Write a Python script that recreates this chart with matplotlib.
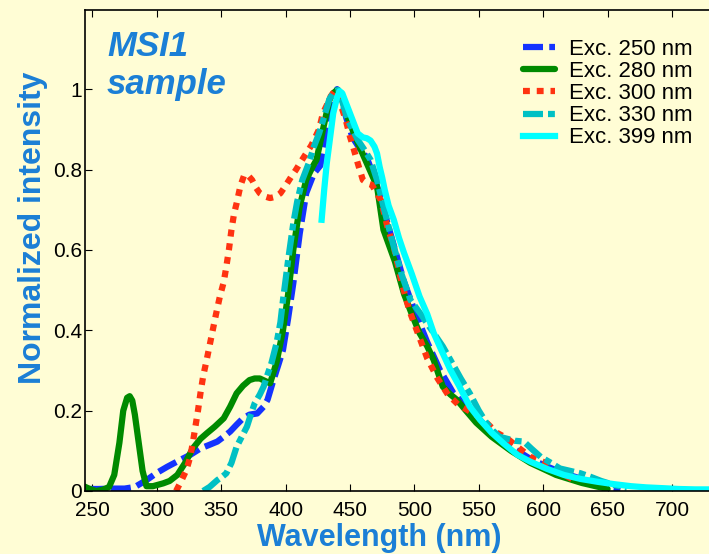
import matplotlib
matplotlib.use("Agg")
import matplotlib.pyplot as plt

# emission spectra (wavelength nm, normalized intensity)
lam_250 = [244, 255, 265, 275, 283, 292, 300, 308, 318, 326, 334, 341, 347, 352, 357, 362, 367,
           372, 378, 383, 386, 390, 394, 398, 402, 406, 411, 416, 422, 427, 431, 435, 438, 440,
           443, 447, 452, 458, 463, 470, 477, 485, 492, 500, 510, 520, 530, 540, 550, 560, 570,
           580, 590, 600, 615, 630, 645, 660]
int_250 = [0.005, 0.005, 0.006, 0.006, 0.01, 0.027, 0.045, 0.06, 0.077, 0.09, 0.106, 0.115, 0.123,
           0.135, 0.148, 0.165, 0.181, 0.19, 0.193, 0.21, 0.227, 0.27, 0.31, 0.351, 0.43, 0.517,
           0.641, 0.741, 0.79, 0.81, 0.874, 0.94, 0.98, 1.0, 0.98, 0.93, 0.88, 0.85, 0.83, 0.77,
           0.69, 0.6, 0.52, 0.45, 0.37, 0.3, 0.245, 0.21, 0.18, 0.145, 0.12, 0.1, 0.08, 0.065,
           0.045, 0.03, 0.015, 0.005]

lam_280 = [244, 248, 253, 258, 263, 267, 271, 274, 277, 279, 281, 283, 286, 289, 292, 297, 305,
           310, 316, 322, 328, 334, 339, 345, 352, 357, 362, 367, 372, 376, 380, 384, 388, 393,
           398, 402, 406, 411, 416, 421, 424, 429, 434, 437, 440, 444, 448, 455, 463, 471, 476,
           485, 492, 498, 504, 510, 515, 522, 528, 533, 540, 548, 560, 575, 590, 610, 630, 650]
int_280 = [0.011, 0.005, 0.0, 0.003, 0.01, 0.04, 0.12, 0.2, 0.232, 0.236, 0.225, 0.19, 0.12,
           0.05, 0.012, 0.012, 0.019, 0.025, 0.04, 0.07, 0.106, 0.13, 0.144, 0.16, 0.181, 0.21,
           0.243, 0.262, 0.276, 0.28, 0.28, 0.274, 0.268, 0.32, 0.40, 0.49, 0.60, 0.708, 0.774,
           0.807, 0.824, 0.899, 0.973, 0.99, 0.998, 0.975, 0.932, 0.874, 0.816, 0.758, 0.65,
           0.57, 0.49, 0.44, 0.393, 0.36, 0.326, 0.26, 0.24, 0.227, 0.2, 0.17, 0.135, 0.1, 0.07,
           0.04, 0.02, 0.005]

lam_300 = [315, 319, 323, 326, 328, 330, 332, 334, 336, 339, 343, 346, 349, 352, 354, 356, 358,
           360, 362, 365, 368, 371, 374, 377, 380, 384, 388, 392, 396, 399, 402, 405, 408, 412,
           416, 420, 423, 426, 429, 432, 435, 438, 441, 444, 447, 450, 453, 456, 460, 464, 467,
           470, 474, 479, 484, 490, 496, 503, 510, 518, 526, 534, 542, 550, 556, 564, 572, 580,
           590, 598, 606, 614, 621, 625]
int_300 = [0.0, 0.025, 0.052, 0.085, 0.12, 0.16, 0.2, 0.245, 0.285, 0.33, 0.393, 0.44, 0.484,
           0.52, 0.558, 0.6, 0.65, 0.69, 0.716, 0.76, 0.787, 0.785, 0.774, 0.755, 0.741, 0.733,
           0.729, 0.732, 0.741, 0.755, 0.77, 0.785, 0.799, 0.82, 0.84, 0.86, 0.88, 0.9, 0.94,
           0.96, 0.982, 0.995, 0.985, 0.95, 0.92, 0.882, 0.85, 0.816, 0.774, 0.765, 0.762, 0.745,
           0.724, 0.658, 0.608, 0.52, 0.45, 0.39, 0.33, 0.28, 0.24, 0.215, 0.2, 0.185, 0.17,
           0.145, 0.131, 0.11, 0.085, 0.075, 0.065, 0.045, 0.032, 0.025]

lam_330 = [336, 341, 347, 351, 354, 358, 362, 366, 370, 373, 376, 380, 383, 386, 389, 393, 396,
           398, 402, 406, 409, 413, 418, 422, 426, 430, 434, 438, 441, 444, 448, 452, 456, 461,
           466, 471, 476, 483, 490, 497, 505, 515, 522, 528, 536, 543, 550, 556, 561, 566, 572,
           578, 585, 591, 598, 606, 613, 621, 629, 637, 645, 655, 665]
int_330 = [0.0, 0.01, 0.027, 0.036, 0.044, 0.07, 0.11, 0.135, 0.16, 0.19, 0.218, 0.24, 0.26,
           0.29, 0.318, 0.368, 0.42, 0.475, 0.575, 0.666, 0.72, 0.774, 0.816, 0.857, 0.89, 0.932,
           0.975, 0.995, 0.998, 0.97, 0.924, 0.9, 0.874, 0.85, 0.824, 0.774, 0.708, 0.62, 0.54,
           0.475, 0.44, 0.393, 0.36, 0.326, 0.28, 0.243, 0.2, 0.169, 0.15, 0.135, 0.13, 0.125,
           0.123, 0.105, 0.085, 0.07, 0.056, 0.05, 0.044, 0.035, 0.025, 0.015, 0.008]

lam_399 = [428, 430, 432, 435, 437, 440, 442, 444, 447, 450, 453, 456, 460, 463, 466, 469, 471,
           473, 475, 477, 480, 484, 488, 492, 498, 504, 510, 515, 521, 528, 535, 543, 551, 560,
           569, 580, 590, 603, 616, 629, 642, 655, 668, 680, 693, 705, 718, 729, 740, 752]
int_399 = [0.675, 0.75, 0.816, 0.89, 0.94, 0.98, 0.995, 0.99, 0.965, 0.94, 0.915, 0.89, 0.88,
           0.878, 0.872, 0.857, 0.84, 0.807, 0.78, 0.749, 0.71, 0.675, 0.63, 0.592, 0.54, 0.484,
           0.44, 0.393, 0.35, 0.301, 0.26, 0.21, 0.177, 0.145, 0.119, 0.09, 0.073, 0.055, 0.04,
           0.03, 0.023, 0.017, 0.012, 0.009, 0.007, 0.005, 0.004, 0.004, 0.003, 0.003]

labels = ["Exc. 250 nm", "Exc. 280 nm", "Exc. 300 nm", "Exc. 330 nm", "Exc. 399 nm"]
x_ticks = [250, 300, 350, 400, 450, 500, 550, 600, 650, 700]
y_ticks = [0, 0.2, 0.4, 0.6, 0.8, 1]
y_tick_labels = ["0", "0.2", "0.4", "0.6", "0.8", "1"]

bg = "#fffdd5"
label_blue = "#1b7fd6"

plt.rcParams["font.family"] = ["Liberation Sans", "DejaVu Sans"]

fig = plt.figure(figsize=(7.09, 5.54), dpi=100, facecolor=bg)
# axes run past the right edge of the picture, like the original crop
ax = fig.add_axes([85 / 709, 1 - 491 / 554, 654 / 709, 481 / 554], facecolor=bg)

lw = 4.5
ax.plot(lam_250, int_250, color="#1433ff", lw=lw, dashes=(3.2, 1.0), dash_capstyle="butt", label=labels[0])
ax.plot(lam_280, int_280, color="#008a00", lw=lw, solid_capstyle="round", label=labels[1])
ax.plot(lam_300, int_300, color="#ff3311", lw=lw, dashes=(1.1, 1.1), dash_capstyle="butt", label=labels[2])
ax.plot(lam_330, int_330, color="#00c0c4", lw=lw, dashes=(3.2, 0.8, 1.1, 0.8), dash_capstyle="butt", label=labels[3])
ax.plot(lam_399, int_399, color="#00ffff", lw=lw, label=labels[4])

ax.set_xlim(244.3, 752)
ax.set_ylim(0, 1.197)
ax.set_xticks(x_ticks)
ax.set_yticks(y_ticks)
ax.set_yticklabels(y_tick_labels)
ax.tick_params(direction="in", top=True, right=True, length=5, labelsize=15, colors="black")
ax.tick_params(axis="x", pad=7)
ax.tick_params(axis="y", pad=2)
for s in ax.spines.values():
    s.set_linewidth(1.2)

ax.set_xlabel("Wavelength (nm)", fontsize=22, fontweight="bold", color=label_blue)
ax.xaxis.set_label_coords(0.45, -0.066)
ax.set_ylabel("Normalized intensity", fontsize=23, fontweight="bold", color=label_blue, va="center")
ax.yaxis.set_label_coords(-0.08, 0.547)

ax.text(22 / 654, 1 - 20 / 481, "MSI1\nsample", transform=ax.transAxes, fontsize=25,
        fontweight="bold", fontstyle="italic", color=label_blue, va="top", ha="left",
        linespacing=1.2)

ax.legend(loc="upper left", bbox_to_anchor=(523 / 709, 1 - 39 / 554), bbox_transform=fig.transFigure,
          frameon=False, fontsize=16, borderpad=0, borderaxespad=0, labelspacing=0.05,
          handlelength=1.45, handletextpad=0.6)

fig.savefig("out.png", dpi=100, facecolor=bg)
